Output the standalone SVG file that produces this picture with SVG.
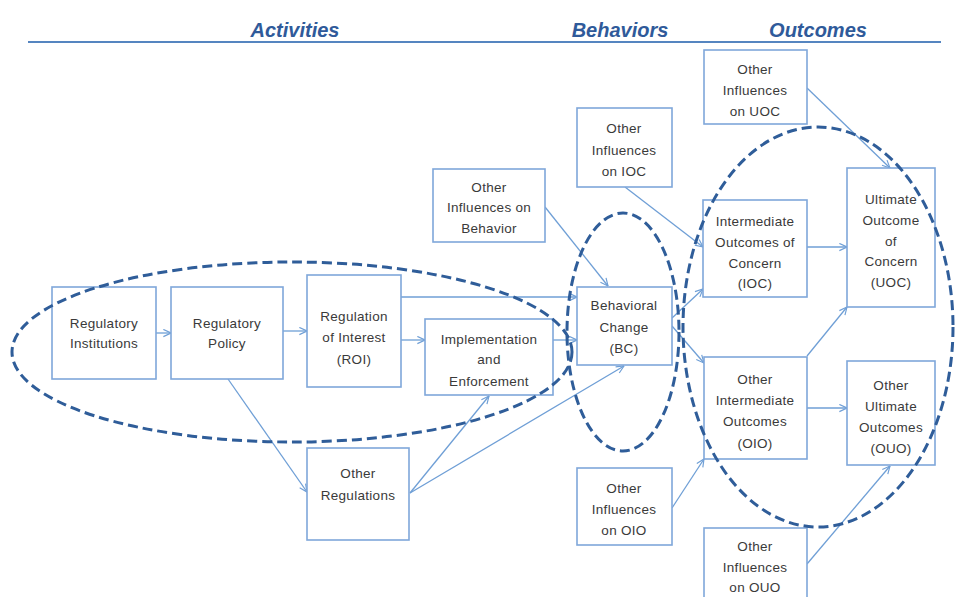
<svg xmlns="http://www.w3.org/2000/svg" width="956" height="597" viewBox="0 0 956 597">
  <style>
    .hdr { font-family: "Liberation Sans", Arial, sans-serif; font-size: 20px; font-weight: bold; font-style: italic; fill: #2f5a9a; text-anchor: middle; }
    .box { fill: #ffffff; stroke: #7fa7da; stroke-width: 1.6; }
    .lbl { font-family: "Liberation Sans", Arial, sans-serif; font-size: 13.5px; letter-spacing: 0.3px; fill: #3a3a3a; text-anchor: middle; }
    .edge { fill: none; stroke: #6f9fd6; stroke-width: 1.3; marker-end: url(#arrow); }
    .zone { fill: none; stroke: #2f5d99; stroke-width: 3; stroke-dasharray: 10 5; }
  </style>
  <defs>
    <marker id="arrow" viewBox="0 0 10 10" refX="9.5" refY="5" markerWidth="9" markerHeight="9" markerUnits="userSpaceOnUse" orient="auto">
      <path d="M1,1 L9.5,5 L1,9" fill="none" stroke="#6f9fd6" stroke-width="1.3"/>
    </marker>
  </defs>

  <rect width="956" height="597" fill="#ffffff"/>

  <!-- column headings -->
  <g id="headings">
    <text class="hdr" x="295" y="37">Activities</text>
    <text class="hdr" x="620" y="37">Behaviors</text>
    <text class="hdr" x="818" y="37">Outcomes</text>
    <line x1="28" y1="42" x2="941" y2="42" stroke="#5585c0" stroke-width="2"/>
  </g>

  <!-- connectors -->
  <g id="connectors">
    <line class="edge" x1="156" y1="333" x2="171" y2="333"/>
    <line class="edge" x1="283" y1="331" x2="307" y2="331"/>
    <line class="edge" x1="401" y1="340" x2="425" y2="340"/>
    <line class="edge" x1="401" y1="297" x2="577" y2="297"/>
    <line class="edge" x1="553" y1="340" x2="577" y2="340"/>
    <line class="edge" x1="228" y1="379" x2="307" y2="492"/>
    <line class="edge" x1="410" y1="493" x2="489" y2="396"/>
    <line class="edge" x1="410" y1="493" x2="624" y2="366"/>
    <line class="edge" x1="545" y1="207" x2="608" y2="286"/>
    <line class="edge" x1="625" y1="187" x2="703" y2="247"/>
    <line class="edge" x1="672" y1="318" x2="703" y2="289"/>
    <line class="edge" x1="672" y1="326" x2="704" y2="363"/>
    <line class="edge" x1="807" y1="247" x2="847" y2="247"/>
    <line class="edge" x1="807" y1="356" x2="847" y2="307"/>
    <line class="edge" x1="807" y1="408" x2="847" y2="408"/>
    <line class="edge" x1="807" y1="88" x2="890" y2="168"/>
    <line class="edge" x1="672" y1="508" x2="704" y2="459"/>
    <line class="edge" x1="807" y1="564" x2="890" y2="466"/>
  </g>

  <!-- nodes -->
  <g id="regulatory-institutions">
    <rect class="box" x="52" y="287" width="104" height="92"/>
    <text class="lbl" x="104" y="328">Regulatory</text>
    <text class="lbl" x="104" y="348">Institutions</text>
  </g>
  <g id="regulatory-policy">
    <rect class="box" x="171" y="287" width="112" height="92"/>
    <text class="lbl" x="227" y="328">Regulatory</text>
    <text class="lbl" x="227" y="348">Policy</text>
  </g>
  <g id="regulation-of-interest">
    <rect class="box" x="307" y="275" width="94" height="112"/>
    <text class="lbl" x="354" y="321">Regulation</text>
    <text class="lbl" x="354" y="342">of Interest</text>
    <text class="lbl" x="354" y="364">(ROI)</text>
  </g>
  <g id="implementation-enforcement">
    <rect class="box" x="425" y="319" width="128" height="76"/>
    <text class="lbl" x="489" y="344">Implementation</text>
    <text class="lbl" x="489" y="364">and</text>
    <text class="lbl" x="489" y="386">Enforcement</text>
  </g>
  <g id="other-regulations">
    <rect class="box" x="307" y="448" width="102" height="92"/>
    <text class="lbl" x="358" y="478">Other</text>
    <text class="lbl" x="358" y="500">Regulations</text>
  </g>
  <g id="other-influences-behavior">
    <rect class="box" x="433" y="169" width="112" height="73"/>
    <text class="lbl" x="489" y="192">Other</text>
    <text class="lbl" x="489" y="212">Influences on</text>
    <text class="lbl" x="489" y="233">Behavior</text>
  </g>
  <g id="other-influences-ioc">
    <rect class="box" x="577" y="108" width="95" height="79"/>
    <text class="lbl" x="624" y="133">Other</text>
    <text class="lbl" x="624" y="155">Influences</text>
    <text class="lbl" x="624" y="176">on IOC</text>
  </g>
  <g id="behavioral-change">
    <rect class="box" x="577" y="287" width="95" height="78"/>
    <text class="lbl" x="624" y="310">Behavioral</text>
    <text class="lbl" x="624" y="332">Change</text>
    <text class="lbl" x="624" y="353">(BC)</text>
  </g>
  <g id="other-influences-oio">
    <rect class="box" x="577" y="468" width="95" height="77"/>
    <text class="lbl" x="624" y="493">Other</text>
    <text class="lbl" x="624" y="514">Influences</text>
    <text class="lbl" x="624" y="535">on OIO</text>
  </g>
  <g id="other-influences-uoc">
    <rect class="box" x="704" y="50" width="103" height="74"/>
    <text class="lbl" x="755" y="74">Other</text>
    <text class="lbl" x="755" y="95">Influences</text>
    <text class="lbl" x="755" y="116">on UOC</text>
  </g>
  <g id="intermediate-outcomes-concern">
    <rect class="box" x="703" y="200" width="104" height="97"/>
    <text class="lbl" x="755" y="226">Intermediate</text>
    <text class="lbl" x="755" y="247">Outcomes of</text>
    <text class="lbl" x="755" y="268">Concern</text>
    <text class="lbl" x="755" y="288">(IOC)</text>
  </g>
  <g id="ultimate-outcome-concern">
    <rect class="box" x="847" y="168" width="88" height="139"/>
    <text class="lbl" x="891" y="204">Ultimate</text>
    <text class="lbl" x="891" y="225">Outcome</text>
    <text class="lbl" x="891" y="246">of</text>
    <text class="lbl" x="891" y="266">Concern</text>
    <text class="lbl" x="891" y="287">(UOC)</text>
  </g>
  <g id="other-intermediate-outcomes">
    <rect class="box" x="704" y="357" width="103" height="102"/>
    <text class="lbl" x="755" y="384">Other</text>
    <text class="lbl" x="755" y="405">Intermediate</text>
    <text class="lbl" x="755" y="426">Outcomes</text>
    <text class="lbl" x="755" y="448">(OIO)</text>
  </g>
  <g id="other-ultimate-outcomes">
    <rect class="box" x="847" y="361" width="88" height="104"/>
    <text class="lbl" x="891" y="390">Other</text>
    <text class="lbl" x="891" y="411">Ultimate</text>
    <text class="lbl" x="891" y="432">Outcomes</text>
    <text class="lbl" x="891" y="453">(OUO)</text>
  </g>
  <g id="other-influences-ouo">
    <rect class="box" x="704" y="528" width="103" height="80"/>
    <text class="lbl" x="755" y="551">Other</text>
    <text class="lbl" x="755" y="572">Influences</text>
    <text class="lbl" x="755" y="592">on OUO</text>
  </g>

  <!-- dashed groupings -->
  <g id="groupings">
    <ellipse class="zone" cx="292" cy="352" rx="280" ry="90"/>
    <ellipse class="zone" cx="623" cy="332" rx="56" ry="119"/>
    <ellipse class="zone" cx="818" cy="327" rx="135" ry="200"/>
  </g>
</svg>
